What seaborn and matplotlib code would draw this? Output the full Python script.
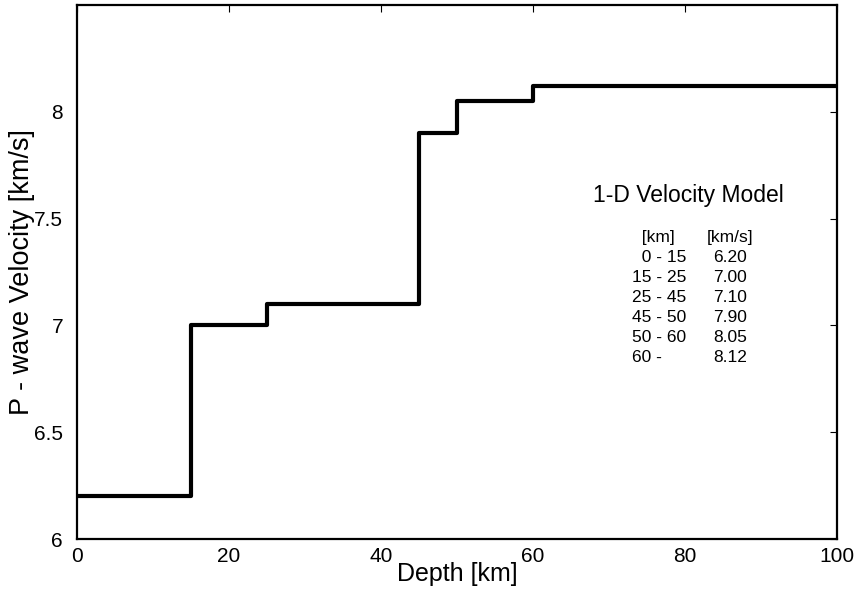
import matplotlib
matplotlib.use("Agg")
import matplotlib.pyplot as plt
import matplotlib.ticker as mticker
import pandas as pd
import seaborn as sns

# 1-D velocity model (layer tops and P-wave velocity)
depth_top = [0, 15, 25, 45, 50, 60]
depth_max = 100
velocity = [6.20, 7.00, 7.10, 7.90, 8.05, 8.12]
depth_labels = ["  0 - 15", "15 - 25", "25 - 45", "45 - 50", "50 - 60", "60 -"]

sns.set_theme(style="white")
plt.rcParams["font.family"] = ["Liberation Sans", "DejaVu Sans"]
plt.rcParams["text.color"] = "black"
plt.rcParams["axes.labelcolor"] = "black"

# step line: repeat the last velocity at the end of the plot range
df = pd.DataFrame({
    "Depth": depth_top + [depth_max],
    "Velocity": velocity + [velocity[-1]],
})

fig = plt.figure(figsize=(8.65, 5.95), dpi=100)
ax = fig.add_axes([0.089, 0.0941, 0.8786, 0.8975])

sns.lineplot(data=df, x="Depth", y="Velocity", drawstyle="steps-post",
             color="black", linewidth=3, ax=ax)

ax.set_xlim(0, 100)
ax.set_ylim(6, 8.5)
ax.set_xticks([0, 20, 40, 60, 80, 100])
ax.set_yticks([6, 6.5, 7, 7.5, 8])
ax.yaxis.set_major_formatter(mticker.FuncFormatter(lambda v, p: f"{v:g}"))

for s in ax.spines.values():
    s.set_visible(True)
    s.set_color("black")
    s.set_linewidth(1.6)

ax.tick_params(axis="both", direction="in", length=5, width=0.8,
               top=True, right=True, labelsize=15, colors="black")
ax.tick_params(axis="x", pad=6)
ax.tick_params(axis="y", pad=10)

ax.set_xlabel("Depth [km]", fontsize=18, labelpad=-3)
ax.set_ylabel("P - wave Velocity [km/s]", fontsize=19.5, labelpad=-1)

# legend-like table of the model
ax.text(0.804, 0.644, "1-D Velocity Model", transform=ax.transAxes,
        ha="center", va="center", fontsize=16.5)

row0 = 0.5655
step = 0.03745
ax.text(0.730, row0, "  [km]", transform=ax.transAxes, ha="left", va="center", fontsize=12.5)
ax.text(0.859, row0, "[km/s]", transform=ax.transAxes, ha="center", va="center", fontsize=12.5)
for i, (lab, v) in enumerate(zip(depth_labels, velocity)):
    y = row0 - step * (i + 1)
    ax.text(0.730, y, lab, transform=ax.transAxes, ha="left", va="center", fontsize=12.5)
    ax.text(0.859, y, f"{v:.2f}", transform=ax.transAxes, ha="center", va="center", fontsize=12.5)

fig.savefig("out.png", dpi=100)
